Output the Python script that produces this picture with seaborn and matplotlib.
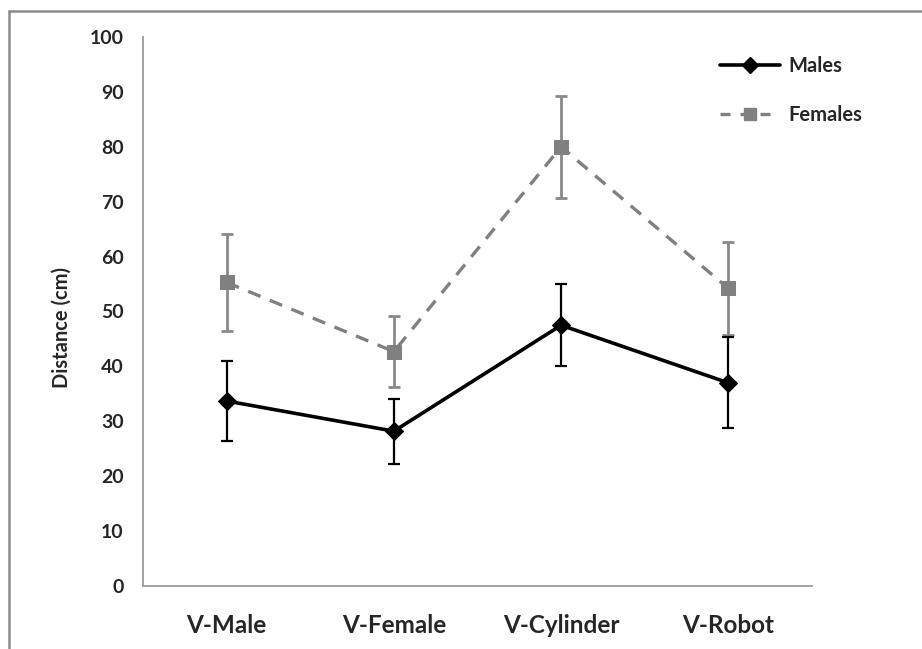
import matplotlib
matplotlib.use("Agg")
import matplotlib.pyplot as plt
import seaborn as sns
import pandas as pd
import numpy as np
from matplotlib.lines import Line2D

categories = ["V-Male", "V-Female", "V-Cylinder", "V-Robot"]
males = [33.7, 28.2, 47.5, 37.0]
males_err = [7.2, 5.9, 7.5, 8.3]
females = [55.3, 42.7, 80.0, 54.2]
females_err = [8.9, 6.5, 9.3, 8.5]
yticks = [0, 10, 20, 30, 40, 50, 60, 70, 80, 90, 100]

sns.set_style("white")
plt.rcParams["font.family"] = ["Lato", "DejaVu Sans"]

df = pd.DataFrame({
    "Condition": categories * 2,
    "Distance": males + females,
    "Group": ["Males"] * 4 + ["Females"] * 4,
})

fig = plt.figure(figsize=(9.22, 6.49), dpi=100)
ax = fig.add_axes([143 / 922, 1 - 586 / 649, (812 - 143) / 922, (586 - 37) / 649])

# error bars first
xpos = np.arange(len(categories))
ax.errorbar(xpos, females, yerr=females_err, fmt="none", ecolor="#8a8a8a",
            elinewidth=2.0, capsize=4.5, capthick=2.0, zorder=2)
ax.errorbar(xpos, males, yerr=males_err, fmt="none", ecolor="black",
            elinewidth=1.6, capsize=4.5, capthick=1.6, zorder=3)

sns.lineplot(data=df[df.Group == "Females"], x="Condition", y="Distance", ax=ax,
             color="#808080", linewidth=2.4, marker="s", markersize=10,
             markeredgecolor="#808080", dashes=False, linestyle=(0, (4, 3)),
             zorder=4, legend=False, sort=False)
sns.lineplot(data=df[df.Group == "Males"], x="Condition", y="Distance", ax=ax,
             color="black", linewidth=2.6, marker="D", markersize=9,
             markeredgecolor="black", zorder=5, legend=False, sort=False)

ax.set_xlim(-0.5, 3.5)
ax.set_ylim(0, 100)
ax.set_yticks(yticks)
ax.set_yticklabels([str(v) for v in yticks], fontsize=14, fontweight="bold")
ax.set_xticks(xpos)
ax.set_xticklabels(categories, fontsize=17.5, fontweight="bold")
ax.set_xticks(np.arange(-0.5, 4.0, 1.0), minor=True)
ax.tick_params(axis="x", which="major", length=0, pad=20)
ax.tick_params(axis="x", which="minor", length=8, width=1.3, color="#9a9a9a", direction="out")
ax.tick_params(axis="y", length=6, width=1.3, color="#9a9a9a", direction="out", pad=8)
ax.set_xlabel("")
ax.set_ylabel("Distance (cm)", fontsize=14.5, fontweight="bold")
ax.yaxis.set_label_coords(-0.106, 0.47)

for s in ["top", "right"]:
    ax.spines[s].set_visible(False)
for s in ["left", "bottom"]:
    ax.spines[s].set_color("#9a9a9a")
    ax.spines[s].set_linewidth(1.3)

handles = [
    Line2D([], [], color="black", linewidth=2.6, marker="D", markersize=8),
    Line2D([], [], color="#808080", linewidth=2.4, linestyle=(0, (3, 3)),
           marker="s", markersize=9),
]
leg = ax.legend(handles, ["Males", "Females"], loc="upper left",
                bbox_to_anchor=(0.862, 0.966), frameon=False, handlelength=3.0,
                labelspacing=1.45, handletextpad=0.4, borderpad=0, borderaxespad=0,
                prop={"family": "Lato", "weight": "bold", "size": 14.5})

# outer frame (top and left edges visible)
fig.add_artist(Line2D([9 / 922, 9 / 922], [0, 1 - 11 / 649], transform=fig.transFigure,
                      color="#8c8c8c", linewidth=1.8))
fig.add_artist(Line2D([9 / 922, 1], [1 - 11 / 649, 1 - 11 / 649], transform=fig.transFigure,
                      color="#8c8c8c", linewidth=1.8))

fig.savefig("out.png", dpi=100)
